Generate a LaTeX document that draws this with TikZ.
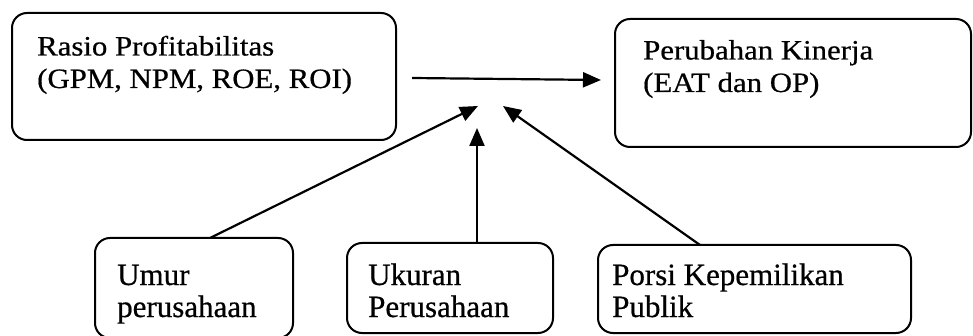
\documentclass[tikz,border=0pt]{standalone}
\usepackage{fontspec}
\setmainfont{Liberation Serif}
\newfontfamily\topfont[FakeStretch=1.1,FakeBold=0.6]{Liberation Serif}
\newfontfamily\botfont[FakeBold=0.6]{Liberation Serif}
\usetikzlibrary{arrows.meta}
\tikzset{
  box/.style={draw, line width=2pt, rounded corners=15pt},
  lbl/.style={anchor=base west, inner sep=0pt, align=left},
  toplbl/.style={lbl, font=\topfont\fontsize{28}{32.5}\selectfont},
  botlbl/.style={lbl, font=\botfont\fontsize{31}{32}\selectfont},
  arr/.style={line width=2.2pt, -{Triangle[length=18pt,width=15pt]}}
}
\begin{document}
\begin{tikzpicture}[x=1pt,y=-1pt]
\useasboundingbox (0,0) rectangle (973,336);
% boxes
\draw[box] (12,13) rectangle (396,140);
\node[toplbl] (t1) at (37,88) {Rasio Profitabilitas\\(GPM, NPM, ROE, ROI)};
\draw[box] (615,19) rectangle (971,147);
\node[toplbl] (t2) at (643,92) {Perubahan Kinerja\\(EAT dan OP)};
\draw[box] (95,238) rectangle (293,338);
\node[botlbl] (t3) at (117,317) {Umur\\perusahaan};
\draw[box] (347,243) rectangle (553,333);
\node[botlbl] (t4) at (368,317) {Ukuran\\Perusahaan};
\draw[box] (598,245) rectangle (911,333);
\node[botlbl] (t5) at (612,317) {Porsi Kepemilikan\\Publik};
% connector points
\coordinate (h1) at (412,78);
\coordinate (h2) at (601,80);
\coordinate (s1) at (210,238);
\coordinate (e1) at (478,106);
\coordinate (s2) at (477,243);
\coordinate (e2) at (477,128);
\coordinate (s3) at (700,245);
\coordinate (e3) at (503,106);
\draw[arr] (h1) -- (h2);
\draw[arr] (s1) -- (e1);
\draw[arr] (s2) -- (e2);
\draw[arr] (s3) -- (e3);
\end{tikzpicture}
\end{document}
